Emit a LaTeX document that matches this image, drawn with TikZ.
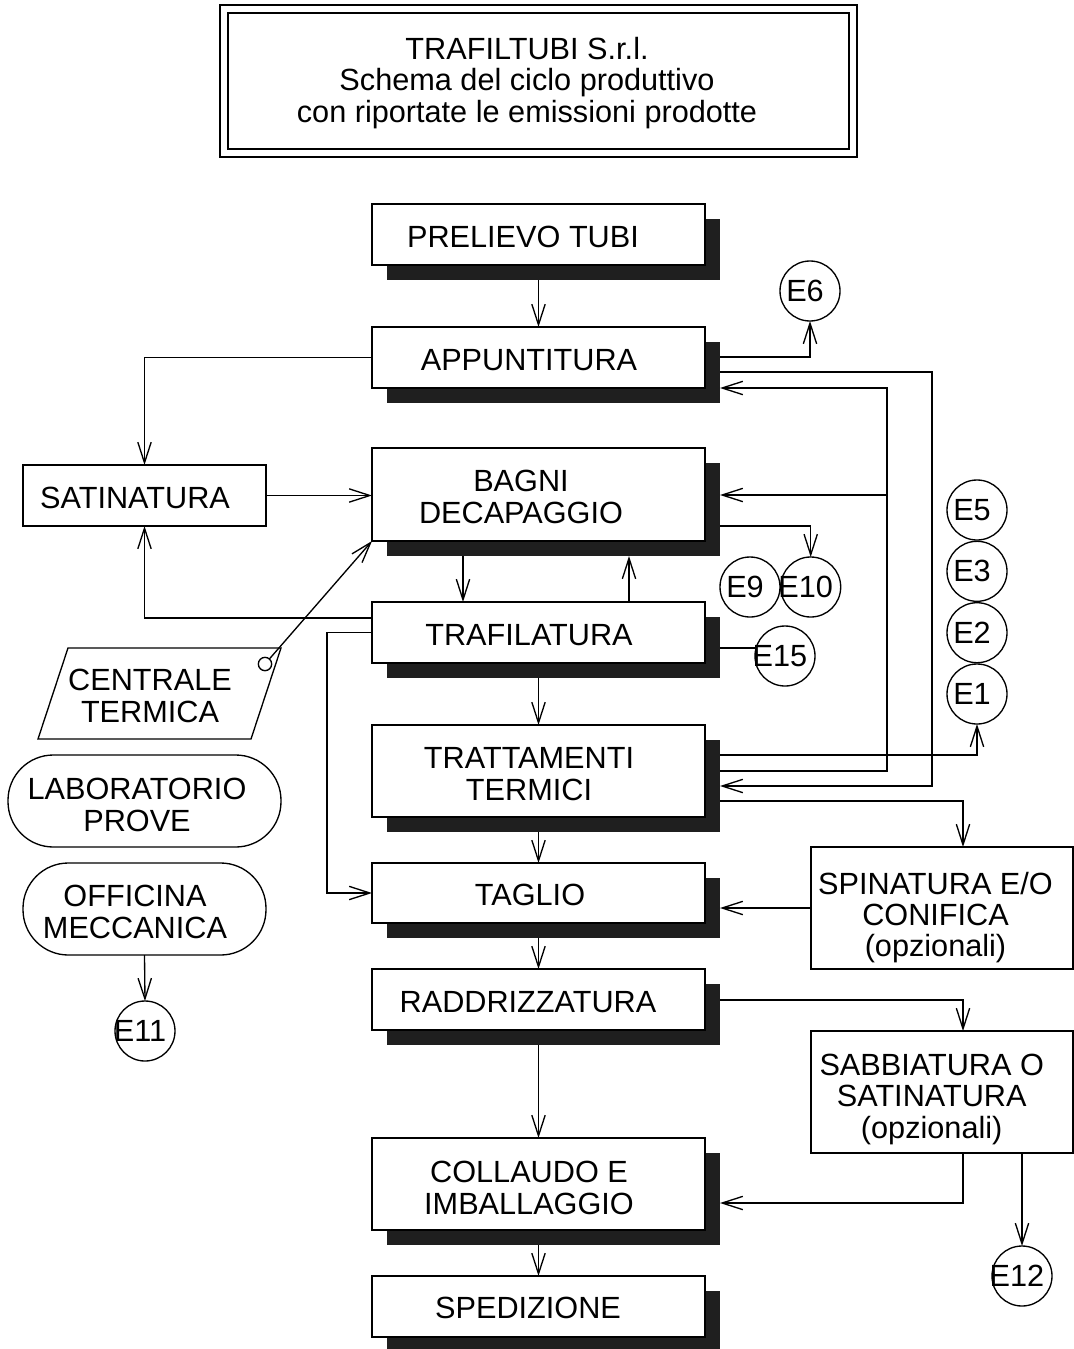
\documentclass[tikz,border=0pt]{standalone}
\usepackage{fontspec}
\setmainfont{Liberation Sans}
\usetikzlibrary{arrows.meta,calc}
\newcommand\fsz{\fontsize{23pt}{23.5pt}\selectfont}
\newcommand\ectext[1]{\makebox[0pt]{#1\kern7.5pt}}
\begin{document}
\begin{tikzpicture}[x=0.75pt,y=-0.75pt,
  every node/.style={font=\fsz, outer sep=0pt},
  box/.style={draw, fill=white, line width=1pt, minimum width=249.75pt, inner sep=0pt},
  plainbox/.style={draw, fill=white, line width=1pt, inner sep=0pt},
  shadebox/.style={fill=black!88, minimum width=249.75pt, inner sep=0pt},
  txt/.style={inner sep=0pt, align=center},
  ec/.style={draw, circle, line width=1pt, minimum size=45pt, inner sep=0pt},
  arr/.style={-{Straight Barb[length=15.5pt,width=10pt]}, line width=1pt},
  ln/.style={line width=1pt},
  stadium/.style={draw, line width=1pt, rounded corners=34pt, minimum height=69pt, inner sep=0pt}
]
\useasboundingbox (0,0) rectangle (1074,1349);

% title
\draw[line width=1.1pt] (220,5) rectangle (857,157);
\draw[line width=1.1pt] (228,13) rectangle (849,149);
\node[txt] (title) at (527,83) {TRAFILTUBI S.r.l.\\Schema del ciclo produttivo\\con riportate le emissioni prodotte};

% shadows
\node[shadebox, minimum height=45.75pt] (preS) at (553.5,249.5) {};
\node[shadebox, minimum height=45.75pt] (appS) at (553.5,372.5) {};
\node[shadebox, minimum height=69.75pt] (bagS) at (553.5,509.5) {};
\node[shadebox, minimum height=45.75pt] (traS) at (553.5,647.5) {};
\node[shadebox, minimum height=69pt]    (ttS) at (553.5,786) {};
\node[shadebox, minimum height=45pt]    (tagS) at (553.5,908) {};
\node[shadebox, minimum height=45.75pt] (radS) at (553.5,1014.5) {};
\node[shadebox, minimum height=69pt]    (colS) at (553.5,1199) {};
\node[shadebox, minimum height=45.75pt] (speS) at (553.5,1321.5) {};

% main boxes
\node[box, minimum height=45.75pt] (pre) at (538.5,234.5) {};
\node[box, minimum height=45.75pt] (app) at (538.5,357.5) {};
\node[box, minimum height=69.75pt] (bag) at (538.5,494.5) {};
\node[box, minimum height=45.75pt] (tra) at (538.5,632.5) {};
\node[box, minimum height=69pt]    (tt)  at (538.5,771) {};
\node[box, minimum height=45pt]    (tag) at (538.5,893) {};
\node[box, minimum height=45.75pt] (rad) at (538.5,999.5) {};
\node[box, minimum height=69pt]    (col) at (538.5,1184) {};
\node[box, minimum height=45.75pt] (spe) at (538.5,1306.5) {};

\node[txt] (preT) at (523,237) {PRELIEVO TUBI};
\node[txt] (appT) at (529,360) {APPUNTITURA};
\node[txt] (bagT) at (521,497) {BAGNI\\DECAPAGGIO};
\node[txt] (traT) at (529,635) {TRAFILATURA};
\node[txt] (ttT)  at (529,774) {TRATTAMENTI\\TERMICI};
\node[txt] (tagT) at (530,895) {TAGLIO};
\node[txt] (radT) at (528,1002) {RADDRIZZATURA};
\node[txt] (colT) at (529,1188) {COLLAUDO E\\IMBALLAGGIO};
\node[txt] (speT) at (528,1308) {SPEDIZIONE};

% side boxes
\node[plainbox, minimum width=182.25pt, minimum height=45.75pt] (sat) at (144.5,495.5) {};
\node[txt] (satT) at (135,498) {SATINATURA};

\node[plainbox, minimum width=196.5pt, minimum height=91.5pt] (spi) at (942,908) {};
\node[txt, anchor=north] (spiT) at (935.5,872) {SPINATURA E/O\\CONIFICA\\(opzionali)};

\node[plainbox, minimum width=196.5pt, minimum height=91.5pt] (sab) at (942,1092) {};
\node[txt, anchor=north] (sabT) at (931.7,1054) {SABBIATURA O\\SATINATURA\\(opzionali)};

\node[stadium, minimum width=204.75pt] (lab) at (144.5,801) {};
\node[txt] (labT) at (137,805) {LABORATORIO\\PROVE};
\node[stadium, minimum width=182.25pt] (off) at (144.5,909) {};
\node[txt] (offT) at (135,912) {OFFICINA\\MECCANICA};

% centrale termica
\draw[ln] (68,648) -- (281,648) -- (251,739) -- (38,739) -- cycle;
\node[txt] (cenT) at (150,696) {CENTRALE\\TERMICA};
\node[draw, circle, fill=white, line width=1pt, minimum size=10pt, inner sep=0pt] (ctc) at (265,664) {};

% emission circles
\node[ec] (e6)  at (810,291) {\ectext{E6}};
\node[ec] (e9)  at (750,587) {\ectext{E9}};
\node[ec] (e10) at (810.7,587) {\ectext{E10}};
\node[ec] (e15) at (785,656) {\ectext{E15}};
\node[ec] (e5)  at (977,510) {\ectext{E5}};
\node[ec] (e3)  at (977,571.3) {\ectext{E3}};
\node[ec] (e2)  at (977,632.7) {\ectext{E2}};
\node[ec] (e1)  at (977,694) {\ectext{E1}};
\node[ec] (e11) at (145,1031) {\ectext{E11}};
\node[ec] (e12) at (1022,1276) {\ectext{E12}};

% connectors
\draw[arr] (pre.south |- preS.south) -- (app.north);
\draw[arr] (appS.east |- 0,357) -| (e6.south);
\draw[arr] (appS.east |- 0,372) -| (932,786) -- (ttS.east |- 0,786);
\draw[arr] (ttS.east |- 0,771) -| (887,388) -- (appS.east |- 0,388);
\draw[arr] (887,495) -- (bagS.east |- 0,495);
\draw[arr] (ttS.east |- 0,755) -| (e1.south);
\draw[arr] (ttS.east |- 0,801) -| (spi.north -| 963,0);
\draw[arr] (app.west) -| (sat.north);
\draw[arr] (sat.east) -- (sat.east -| bag.west);
\draw[arr] (tra.west |- 0,618) -| (sat.south);
\draw[arr] (tra.west) -- (327,632.5) |- (tag.west);
\draw[arr] (463,0 |- bagS.south) -- (463,0 |- tra.north);
\draw[arr] (629,0 |- tra.north) -- (629,0 |- bagS.south);
\draw[arr] (bagS.east |- 0,526) -| (e10.north);
\draw[ln] (traS.east |- 0,648) -- (756,648);
\draw[arr] (tra.south |- traS.south) -- (tt.north);
\draw[arr] (tt.south |- ttS.south) -- (tag.north);
\draw[arr] (spi.west) -- (spi.west -| tagS.east);
\draw[arr] (tag.south |- tagS.south) -- (rad.north);
\draw[arr] (radS.east |- 0,1000) -| (sab.north -| 963,0);
\draw[arr] (rad.south |- radS.south) -- (col.north);
\draw[arr] (sab.south -| 963,0) |- (colS.east |- 0,1203);
\draw[arr] (sab.south -| 1022,0) -- (e12.north);
\draw[arr] (col.south |- colS.south) -- (spe.north);
\draw[arr] (ctc) -- (bag.south west);
\draw[arr] (off.south) -- (e11.north);
\end{tikzpicture}
\end{document}
